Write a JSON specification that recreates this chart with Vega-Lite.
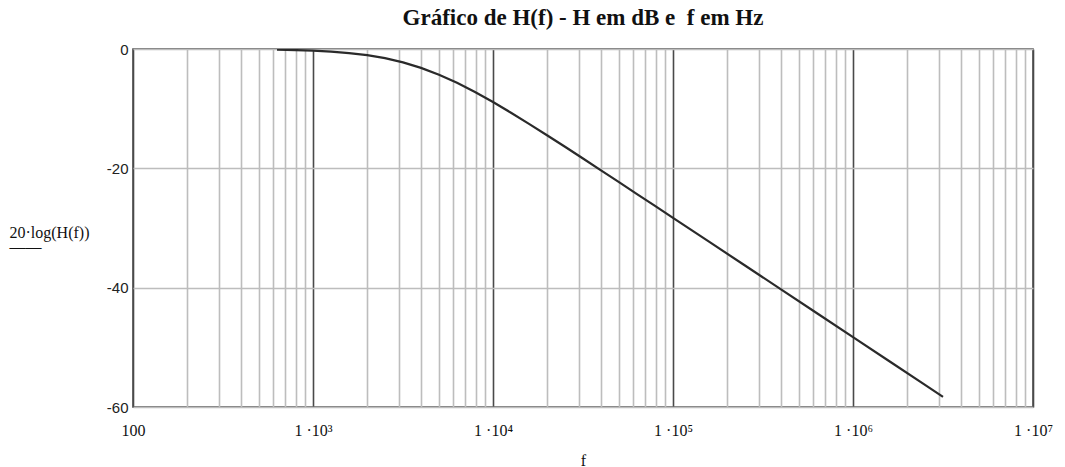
{
  "$schema": "https://vega.github.io/schema/vega-lite/v6.json",
  "width": 900,
  "height": 358,
  "autosize": {"type": "none"},
  "padding": {"left": 133, "top": 49, "right": 32, "bottom": 60},
  "background": "white",
  "config": {
    "view": {"stroke": "#505050", "strokeWidth": 1.6},
    "font": "Liberation Serif"
  },
  "title": {
    "text": "Gráfico de H(f) - H em dB e \u00a0f em Hz",
    "font": "Liberation Serif",
    "fontSize": 23,
    "fontWeight": "bold",
    "color": "#111",
    "anchor": "middle",
    "offset": 12
  },
  "data": {
    "values": [
      {"f": 631, "dB": -0.12},
      {"f": 800, "dB": -0.18},
      {"f": 1000, "dB": -0.28},
      {"f": 1260, "dB": -0.44},
      {"f": 1585, "dB": -0.68},
      {"f": 2000, "dB": -1.04},
      {"f": 2512, "dB": -1.54},
      {"f": 3162, "dB": -2.24},
      {"f": 3981, "dB": -3.16},
      {"f": 5012, "dB": -4.31},
      {"f": 6310, "dB": -5.67},
      {"f": 7943, "dB": -7.21},
      {"f": 10000, "dB": -8.89},
      {"f": 12589, "dB": -10.68},
      {"f": 15849, "dB": -12.54},
      {"f": 19953, "dB": -14.45},
      {"f": 25119, "dB": -16.39},
      {"f": 31623, "dB": -18.35},
      {"f": 39811, "dB": -20.33},
      {"f": 50119, "dB": -22.31},
      {"f": 63096, "dB": -24.31},
      {"f": 79433, "dB": -26.30},
      {"f": 100000, "dB": -28.30},
      {"f": 158489, "dB": -32.29},
      {"f": 251189, "dB": -36.29},
      {"f": 398107, "dB": -40.29},
      {"f": 630957, "dB": -44.29},
      {"f": 1000000, "dB": -48.29},
      {"f": 1584893, "dB": -52.29},
      {"f": 2511886, "dB": -56.29},
      {"f": 3162278, "dB": -58.29}
    ]
  },
  "mark": {"type": "line", "color": "#2a2a2a", "strokeWidth": 2.2, "clip": true},
  "encoding": {
    "x": {
      "field": "f",
      "type": "quantitative",
      "scale": {"type": "log", "domain": [100, 10000000], "nice": false},
      "axis": {
        "title": "f",
        "titleFont": "Liberation Serif",
        "titleFontSize": 16,
        "titleFontWeight": "normal",
        "titleColor": "#111",
        "titlePadding": 14,
        "values": [100,200,300,400,500,600,700,800,900,1000,2000,3000,4000,5000,6000,7000,8000,9000,10000,20000,30000,40000,50000,60000,70000,80000,90000,100000,200000,300000,400000,500000,600000,700000,800000,900000,1000000,2000000,3000000,4000000,5000000,6000000,7000000,8000000,9000000,10000000],
        "labelExpr": "datum.value == 100 ? '100' : datum.value == 1000 ? '1 ·10³' : datum.value == 10000 ? '1 ·10⁴' : datum.value == 100000 ? '1 ·10⁵' : datum.value == 1000000 ? '1 ·10⁶' : datum.value == 10000000 ? '1 ·10⁷' : ''",
        "labelFont": "Liberation Serif",
        "labelFontSize": 16,
        "labelColor": "#111",
        "labelPadding": 15,
        "labelOverlap": false,
        "labelBound": false,
        "labelFlush": false,
        "ticks": false,
        "domain": false,
        "grid": true,
        "gridColor": {
          "condition": {"test": "abs(log(datum.value)/LN10 - round(log(datum.value)/LN10)) < 0.001", "value": "#4a4a4a"},
          "value": "#bdbdbd"
        },
        "gridWidth": 1.6,
        "gridOpacity": 1
      }
    },
    "y": {
      "field": "dB",
      "type": "quantitative",
      "scale": {"domain": [-60, 0], "nice": false},
      "axis": {
        "title": ["20·log(H(f))", "——"],
        "titleAngle": 0,
        "titleAlign": "left",
        "titleBaseline": "alphabetic",
        "titleX": -124,
        "titleY": 188,
        "titleFont": "Liberation Serif",
        "titleFontSize": 16,
        "titleFontWeight": "normal",
        "titleColor": "#111",
        "titleLineHeight": 14,
        "values": [-60, -40, -20, 0],
        "labelExpr": "toString(datum.value)",
        "labelFont": "Liberation Sans",
        "labelFontSize": 15,
        "labelColor": "#222",
        "labelPadding": 5,
        "ticks": false,
        "domain": false,
        "grid": true,
        "gridColor": "#bdbdbd",
        "gridWidth": 1.6,
        "gridOpacity": 1
      }
    }
  }
}
